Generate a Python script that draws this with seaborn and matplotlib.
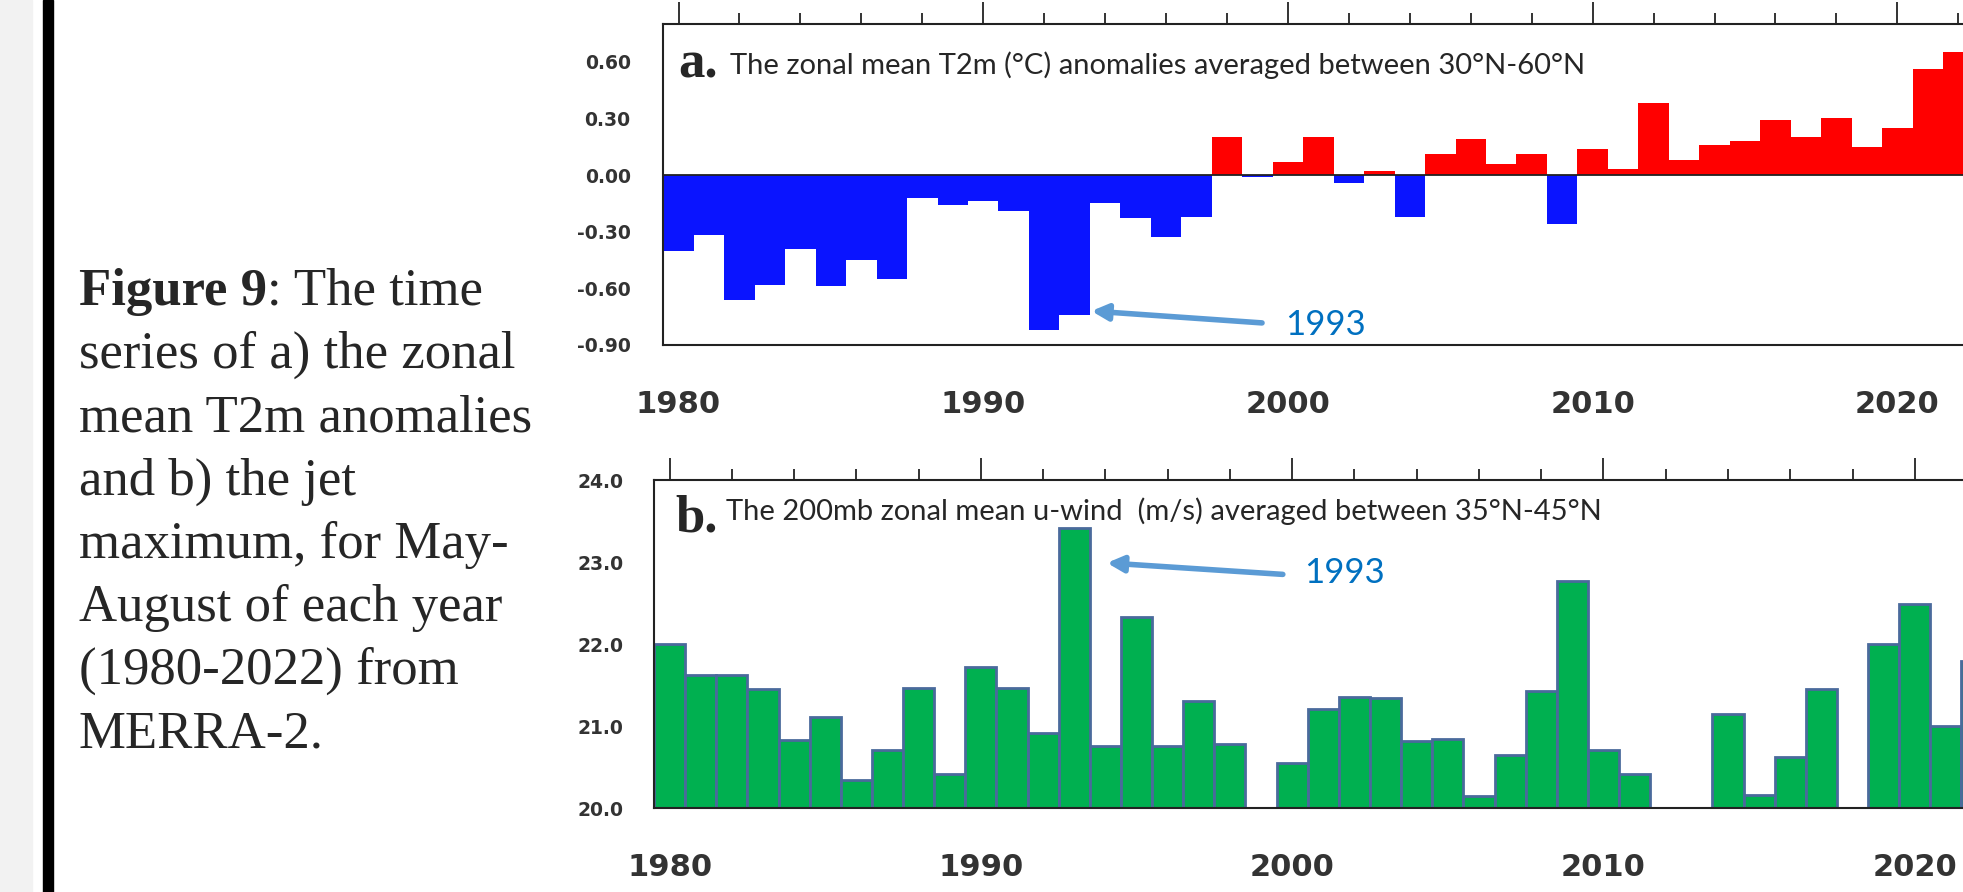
import numpy as np
import pandas as pd
import seaborn as sns
import matplotlib.pyplot as plt
from matplotlib.ticker import MultipleLocator, FormatStrFormatter
from matplotlib.patches import Rectangle

# ---- data ----
years = list(range(1980, 2023))

t2m_anom = [-0.40, -0.32, -0.66, -0.58, -0.39, -0.59, -0.45, -0.55, -0.12, -0.16,
            -0.14, -0.19, -0.82, -0.74, -0.15, -0.23, -0.33, -0.22, 0.20, -0.01,
            0.07, 0.20, -0.04, 0.02, -0.22, 0.11, 0.19, 0.06, 0.11, -0.26,
            0.14, 0.03, 0.38, 0.08, 0.16, 0.18, 0.29, 0.20, 0.30, 0.15,
            0.25, 0.56, 0.65]

uwind = [22.00, 21.62, 21.63, 21.45, 20.83, 21.11, 20.34, 20.71, 21.47, 20.42,
         21.72, 21.47, 20.92, 23.42, 20.76, 22.33, 20.76, 21.31, 20.78, np.nan,
         20.55, 21.21, 21.35, 21.34, 20.82, 20.85, 20.15, 20.65, 21.43, 22.77,
         20.71, 20.42, np.nan, np.nan, 21.15, 20.16, 20.63, 21.45, np.nan, 22.00,
         22.49, 21.00, 21.80]

t2m_ticks = [-0.9, -0.6, -0.3, 0.0, 0.3, 0.6]
wind_ticks = [20, 21, 22, 23, 24]
year_ticks = [1980, 1990, 2000, 2010, 2020]

title_a = "The zonal mean T2m (°C) anomalies averaged between 30°N-60°N"
title_b = "The 200mb zonal mean u-wind  (m/s) averaged between 35°N-45°N"
caption = ["series of a) the zonal", "mean T2m anomalies", "and b) the jet",
           "maximum, for May-", "August of each year", "(1980-2022) from", "MERRA-2."]

RED = '#ff0000'
BLUE = '#0a14ff'
GREEN = '#00b050'
EDGE = '#4a6a9c'
NOTE = '#0070c0'
ARROW = '#5b9bd5'
INK = '#222222'
TICK_INK = '#333333'

W, H = 1963, 892
sns.set_style('white')
fig = plt.figure(figsize=(W / 100, H / 100), dpi=100)

def fx(px):
    return px / W

def fy(py):
    return 1 - py / H

# left margin decoration
fig.patches.append(Rectangle((0, 0), fx(32), 1, transform=fig.transFigure, color='#f2f2f2', zorder=0))
fig.patches.append(Rectangle((fx(43), 0), fx(10), 1, transform=fig.transFigure, color='black', zorder=0))

ax_a = fig.add_axes([fx(663.3), fy(345), 43 * 30.47 / W, (345 - 24) / H])
ax_b = fig.add_axes([fx(654), fy(808.3), 43 * 31.13 / W, (808.3 - 480) / H])

# ---- panel a ----
df_a = pd.DataFrame({'year': years, 't2m': t2m_anom})
df_a['sign'] = np.where(df_a['t2m'] >= 0, 'pos', 'neg')
sns.barplot(data=df_a, x='year', y='t2m', hue='sign', palette={'pos': RED, 'neg': BLUE},
            native_scale=True, dodge=False, width=1.0, errorbar=None, linewidth=0,
            saturation=1, legend=False, orient='x', ax=ax_a)
ax_a.axhline(0, color=INK, lw=1.3, zorder=5)
ax_a.set_ylim(-0.9, 0.8)
ax_a.set_yticks(t2m_ticks)
ax_a.yaxis.set_minor_locator(MultipleLocator(0.1))
ax_a.yaxis.set_major_formatter(FormatStrFormatter('%.2f'))

# ---- panel b ----
df_b = pd.DataFrame({'year': years, 'uwind': uwind}).dropna()
sns.barplot(data=df_b, x='year', y='uwind', color=GREEN, edgecolor=EDGE, linewidth=2.0,
            native_scale=True, width=1.0, errorbar=None, saturation=1, orient='x', ax=ax_b)
ax_b.set_ylim(20, 24)
ax_b.set_yticks(wind_ticks)
ax_b.yaxis.set_minor_locator(MultipleLocator(0.2))
ax_b.yaxis.set_major_formatter(FormatStrFormatter('%.1f'))

for ax, ypad in ((ax_a, 6.5), (ax_b, 5)):
    ax.set_xlim(1979.5, 2022.5)
    ax.set_xticks(year_ticks)
    ax.xaxis.set_minor_locator(MultipleLocator(2))
    ax.set_xlabel('')
    ax.set_ylabel('')
    for s in ax.spines.values():
        s.set_visible(True)
        s.set_color(INK)
        s.set_linewidth(1.5)
    ax.tick_params(axis='x', which='major', direction='out', length=15.8, width=1.4,
                   color=TICK_INK, top=True, pad=16.5, labelsize=22, labelcolor=TICK_INK)
    ax.tick_params(axis='x', which='minor', direction='out', length=8, width=1.4,
                   color=TICK_INK, top=True)
    ax.tick_params(axis='y', which='major', direction='out', length=17, width=1.4,
                   color=TICK_INK, pad=ypad, labelsize=13.5, labelcolor=TICK_INK)
    ax.tick_params(axis='y', which='minor', direction='out', length=10, width=1.4,
                   color=TICK_INK)
    for lab in ax.get_xticklabels() + ax.get_yticklabels():
        lab.set_fontfamily('DejaVu Sans')
        lab.set_fontweight('bold')

# ---- panel labels and titles ----
fig.text(fx(678), fy(77), 'a.', family='Liberation Serif', weight='bold', fontsize=38,
         va='baseline', ha='left')
fig.text(fx(730), fy(74), title_a, family='Lato', fontsize=21, va='baseline', ha='left')
fig.text(fx(675), fy(531), 'b.', family='Liberation Serif', weight='bold', fontsize=38,
         va='baseline', ha='left')
fig.text(fx(726), fy(520), title_b, family='Lato', fontsize=21, va='baseline', ha='left')

# ---- 1993 callouts ----
arrow_kw = dict(arrowstyle='-|>', lw=4, color=ARROW, mutation_scale=24, shrinkA=0, shrinkB=0)
ax_a.annotate('', xy=(1993.55, t2m_anom[13] + 0.02), xytext=(1999.15, -0.783), arrowprops=arrow_kw)
ax_a.text(1999.9, -0.847, '1993', color=NOTE, family='Lato', fontsize=25, va='baseline')
ax_b.annotate('', xy=(1994.05, 22.99), xytext=(1999.7, 22.85), arrowprops=arrow_kw)
ax_b.text(2000.4, 22.74, '1993', color=NOTE, family='Lato', fontsize=25, va='baseline')

# ---- caption on the left ----
cap_size = 38
line_step = 63.2
r = fig.canvas.get_renderer()
t = fig.text(fx(79), fy(305), 'Figure 9', family='Liberation Serif', weight='bold',
             fontsize=cap_size, va='baseline', ha='left')
bb = t.get_window_extent(renderer=r)
fig.text(bb.x1 / W, fy(305), ': The time', family='Liberation Serif', fontsize=cap_size,
         va='baseline', ha='left')
for i, line in enumerate(caption):
    fig.text(fx(79), fy(305 + line_step * (i + 1)), line, family='Liberation Serif',
             fontsize=cap_size, va='baseline', ha='left')

fig.savefig('out.png', dpi=100)
